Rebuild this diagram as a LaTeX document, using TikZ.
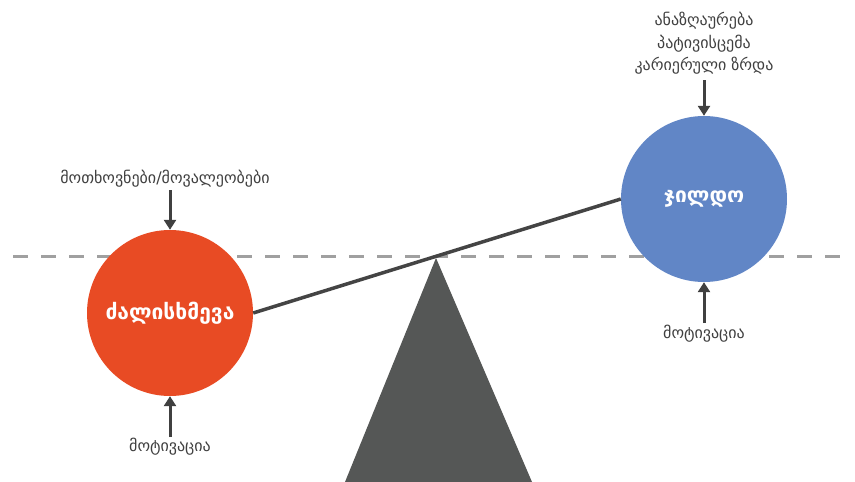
\documentclass[tikz,border=0pt]{standalone}
\usepackage{fontspec}
\setmainfont{DejaVu Sans}
\usetikzlibrary{arrows.meta}
\definecolor{effortred}{HTML}{E84B24}
\definecolor{rewardblue}{HTML}{6186C6}
\definecolor{fulcrum}{HTML}{555756}
\definecolor{beamgray}{HTML}{444444}
\definecolor{levelgray}{HTML}{A0A0A0}
\definecolor{labelgray}{HTML}{404040}
\begin{document}
\begin{tikzpicture}[x=1pt,y=-1pt,
  weight/.style={circle,minimum size=166pt,inner sep=0pt,text=white,font=\bfseries\fontsize{21}{24}\selectfont},
  factor/.style={text=labelgray,font=\fontsize{16}{22.5}\selectfont,align=center,inner sep=1pt},
  push/.style={draw=labelgray,line width=3pt,-{Triangle[width=12pt,length=10pt]}}]
\useasboundingbox (0,0) rectangle (855,482);
% level line
\draw[levelgray,line width=3pt,dash pattern=on 15pt off 13pt,dash phase=0pt] (13,256) -- (845,256);
% fulcrum
\coordinate (apex) at (436,258);
\fill[fulcrum] (apex) -- (532,482) -- (345,482) -- cycle;
% weights
\node[weight,fill=effortred] (effort) at (170,313) {ძალისხმევა};
\node[weight,fill=rewardblue] (reward) at (704,199) {ჯილდო};
% beam
\draw[beamgray,line width=3.5pt] (effort.east) -- (reward.west);
% influences on effort
\node[factor] (demands) at (165,179) {მოთხოვნები/მოვალეობები};
\node[factor] (motivA) at (170,447) {მოტივაცია};
\draw[push] (170,190) -- (effort.north);
\draw[push] (170,437) -- (effort.south);
% influences on reward
\node[factor,anchor=north] (gains) at (704,11) {ანაზღაურება\\პატივისცემა\\კარიერული ზრდა};
\node[factor] (motivB) at (704,334) {მოტივაცია};
\draw[push] (704,80) -- (reward.north);
\draw[push] (704,323) -- (reward.south);
\end{tikzpicture}
\end{document}
